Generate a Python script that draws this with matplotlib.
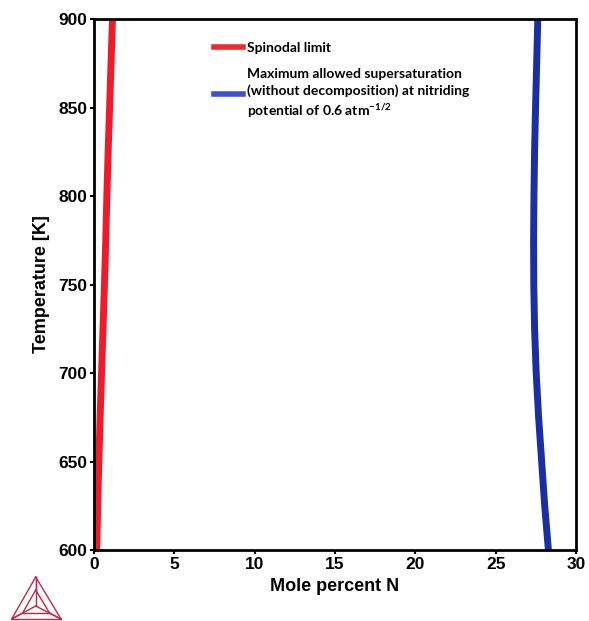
import matplotlib
matplotlib.use("Agg")
import matplotlib.pyplot as plt
from matplotlib.lines import Line2D

# data
temps = [900, 875, 850, 825, 800, 775, 750, 725, 700, 675, 650, 625, 600]
spinodal_N = [1.15, 1.06, 0.97, 0.88, 0.80, 0.73, 0.65, 0.56, 0.47, 0.38, 0.30, 0.23, 0.17]
maxsuper_N = [27.62, 27.55, 27.48, 27.42, 27.38, 27.36, 27.37, 27.42, 27.52, 27.67, 27.86, 28.05, 28.28]

xticks = [0, 5, 10, 15, 20, 25, 30]
yticks = [600, 650, 700, 750, 800, 850, 900]

plt.rcParams['font.family'] = ['Liberation Sans', 'DejaVu Sans']
plt.rcParams['mathtext.fontset'] = 'custom'
plt.rcParams['mathtext.rm'] = 'Lato:bold'
plt.rcParams['mathtext.it'] = 'Lato:bold'

fig = plt.figure(figsize=(5.89, 6.21), dpi=100)
ax = fig.add_axes([0.1596, 0.1143, 0.8184, 0.8551])

ax.plot(spinodal_N, temps, color='#ee1c2a', lw=5, solid_capstyle='round')
ax.plot(maxsuper_N, temps, color='#1a2fa0', lw=5, solid_capstyle='round')

ax.set_xlim(0, 30)
ax.set_ylim(600, 900)
ax.set_xticks(xticks)
ax.set_yticks(yticks)
for s in ax.spines.values():
    s.set_linewidth(2)
ax.tick_params(direction='out', length=3, width=1.5, pad=2)
for lab in ax.get_xticklabels() + ax.get_yticklabels():
    lab.set_fontweight('bold')
    lab.set_fontsize(12.5)
ax.set_xlabel("Mole percent N", fontsize=13, fontweight='bold', labelpad=4)
ax.set_ylabel("Temperature [K]", fontsize=13, fontweight='bold', labelpad=6)

handles = [Line2D([], [], color='#ee2a2a', lw=4),
           Line2D([], [], color='#3f4fd0', lw=4)]
labels = ["Spinodal limit",
          "Maximum allowed supersaturation\n(without decomposition) at nitriding\npotential of 0.6 atm$^{-1/2}$"]
leg = ax.legend(handles, labels, loc='upper left', bbox_to_anchor=(0.222, 0.98),
                frameon=False, handlelength=2.1, handletextpad=0.3, labelspacing=1.0,
                prop={'family': 'Lato', 'weight': 'bold', 'size': 10})
leg.get_texts()[1].set_linespacing(1.4)

# Thermo-Calc style logo, bottom left
col = '#c0284a'
A, B, C = (35.7, 577), (11.7, 619), (61, 619)
cen = (35.7, 606)
def fc(p):
    return (p[0] / 589, 1 - p[1] / 621)
for a, b in [(A, B), (B, C), (C, A)]:
    fig.add_artist(Line2D([fc(a)[0], fc(b)[0]], [fc(a)[1], fc(b)[1]], color=col, lw=1))
for v in (A, B, C):
    fig.add_artist(Line2D([fc(v)[0], fc(cen)[0]], [fc(v)[1], fc(cen)[1]], color=col, lw=1))
# inner triangle
k = 0.55
inner = [(cen[0] + k * (v[0] - cen[0]), cen[1] + k * (v[1] - cen[1])) for v in (A, B, C)]
for i in range(3):
    a, b = inner[i], inner[(i + 1) % 3]
    fig.add_artist(Line2D([fc(a)[0], fc(b)[0]], [fc(a)[1], fc(b)[1]], color=col, lw=1))
for v, w in zip((A, B, C), inner):
    fig.add_artist(Line2D([fc(v)[0], fc(w)[0]], [fc(v)[1], fc(w)[1]], color=col, lw=1))

fig.savefig("out.png", dpi=100)
